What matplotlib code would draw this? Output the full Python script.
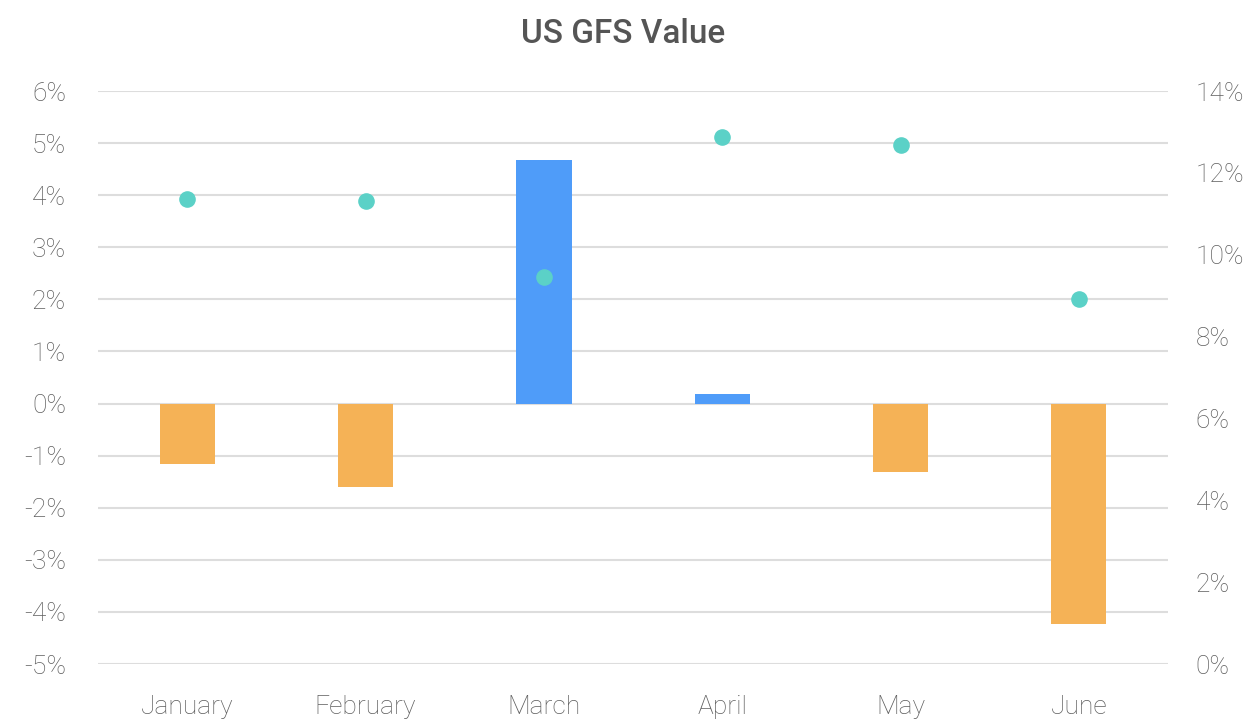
import matplotlib.pyplot as plt
from matplotlib.ticker import FuncFormatter

months = ['January', 'February', 'March', 'April', 'May', 'June']
change = [-1.16, -1.60, 4.67, 0.18, -1.31, -4.23]   # left axis, %
value = [11.36, 11.31, 9.46, 12.88, 12.68, 8.92]    # right axis, %

plt.rcParams['font.family'] = ['Roboto', 'DejaVu Sans']

fig = plt.figure(figsize=(12.46, 7.28), dpi=100)
ax = fig.add_axes([0.0787, 0.0879, 0.8587, 0.787])
ax2 = ax.twinx()

x = list(range(len(months)))
colors = ['#4F9CF9' if v >= 0 else '#F5B256' for v in change]
ax.bar(x, change, width=0.31, color=colors, zorder=3)
ax2.scatter(x, value, s=120, color='#5BD1C7', zorder=4)

ax.set_xlim(-0.5, 5.5)
ax.set_ylim(-5, 6)
ax.set_yticks(range(-5, 7))
ax.yaxis.set_major_formatter(FuncFormatter(lambda v, p: f'{v:.0f}%'))
ax.grid(axis='y', color='#DDDDDD', linewidth=1.5, zorder=0)
ax.set_axisbelow(True)

ax2.set_ylim(0, 14)
ax2.set_yticks(range(0, 15, 2))
ax2.yaxis.set_major_formatter(FuncFormatter(lambda v, p: f'{v:.0f}%'))

ax.set_xticks(x)
ax.set_xticklabels(months)

for a in (ax, ax2):
    for s in a.spines.values():
        s.set_visible(False)
    a.tick_params(length=0, labelsize=19, labelcolor='#5E5E5E')
    for lab in a.get_xticklabels() + a.get_yticklabels():
        lab.set_fontweight('light')
ax.tick_params(axis='y', pad=23)
ax2.tick_params(axis='y', pad=20)
ax.tick_params(axis='x', pad=22)

fig.suptitle('US GFS Value', x=0.5, y=0.975, fontsize=24, fontweight='medium', color='#555555')

plt.savefig('out.png')
